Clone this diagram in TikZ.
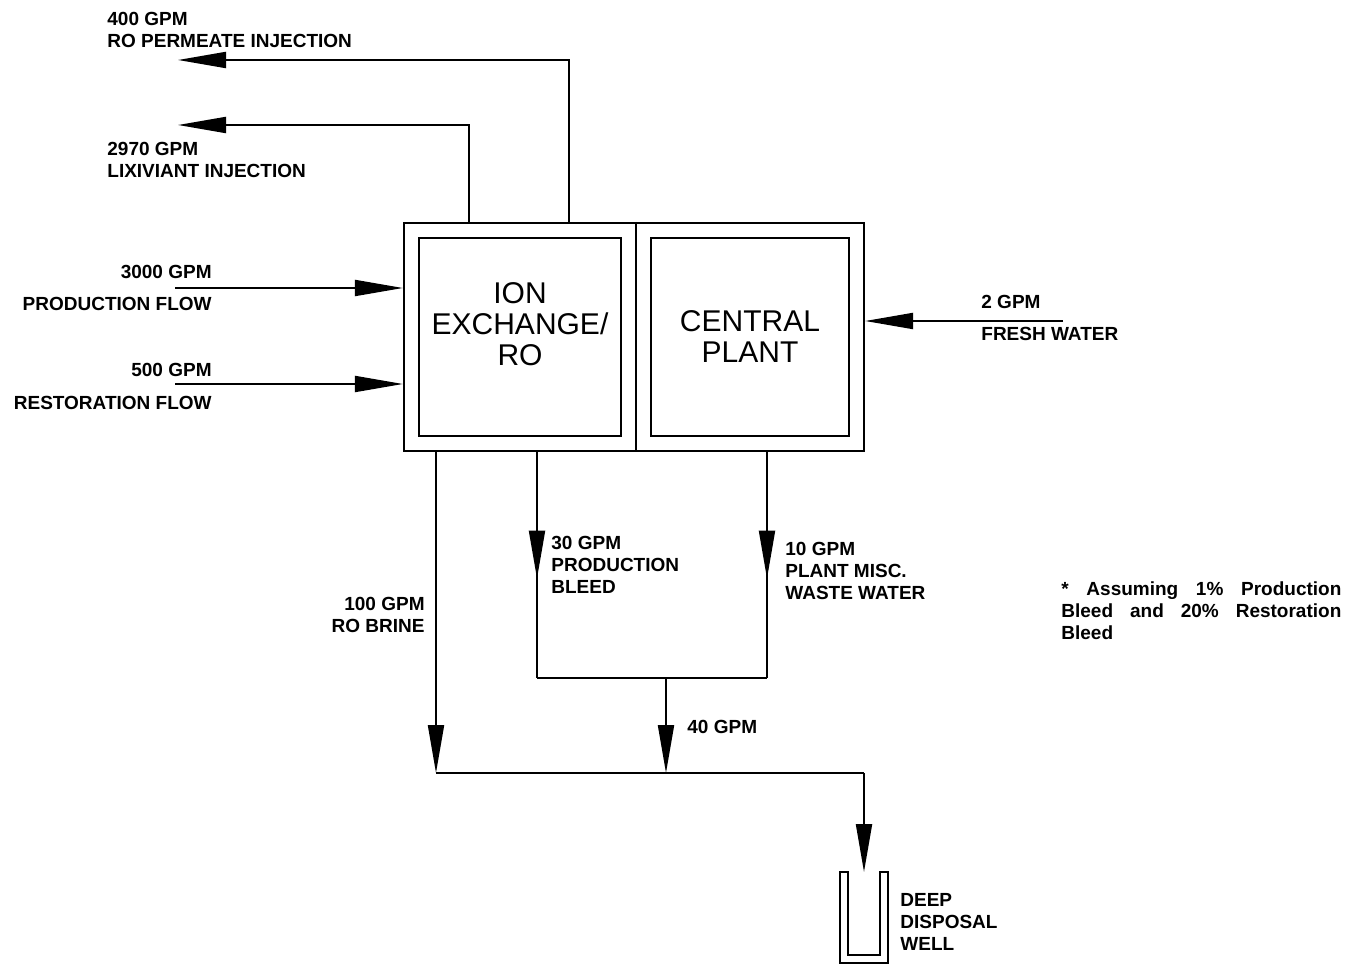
\documentclass[tikz,border=0pt]{standalone}
\usepackage{fontspec}
\setmainfont{Liberation Sans}
\usetikzlibrary{arrows.meta,decorations.markings}

\tikzset{
  pipe/.style={line width=1pt},
  flow/.style={pipe, -{Triangle[length=24pt,width=8pt]}},
  midflow/.style={pipe, postaction={decorate}, decoration={markings,
      mark=at position #1 with {\arrow{Triangle[length=24pt,width=8pt]}}}},
  tag/.style={inner sep=0pt, align=left, font=\bfseries\fontsize{9.5}{11}\selectfont},
  unit/.style={draw, line width=1.1pt, inner sep=0pt, align=center,
      font=\fontsize{15}{15.5}\selectfont},
}

\begin{document}
\begin{tikzpicture}[x=0.5pt, y=-0.5pt]
    \useasboundingbox (0,0) rectangle (1351,968);

    % plant buildings
    \node[unit, minimum width=230pt, minimum height=114pt] (frame) at (634,337) {};
    \node[unit, minimum width=101pt, minimum height=99pt] (ion) at (520,337) {};
    \node[unit, minimum width=99pt, minimum height=99pt] (plant) at (750,337) {CENTRAL\\PLANT};
    \node[unit, draw=none] (iontext) at ([yshift=6.5pt]ion.center) {ION\\EXCHANGE/\\RO};
    \coordinate (split) at (636,337);
    \draw[line width=1.1pt] (frame.north -| split) -- (frame.south -| split);

    % injection lines
    \coordinate (perm) at (178,60);
    \coordinate (permbend) at (569,60);
    \coordinate (lix) at (178,125);
    \coordinate (lixbend) at (469,125);
    \draw[flow] (frame.north -| permbend) -- (permbend) -- (perm);
    \draw[flow] (frame.north -| lixbend) -- (lixbend) -- (lix);

    % feed lines
    \coordinate (prod) at (175,288);
    \coordinate (rest) at (175,384);
    \coordinate (fresh) at (1063,321);
    \draw[flow] (prod) -- (prod -| frame.west);
    \draw[flow] (rest) -- (rest -| frame.west);
    \draw[flow] (fresh) -- (fresh -| frame.east);

    % waste lines
    \coordinate (brine) at (436,773);
    \coordinate (bleed) at (537,678);
    \coordinate (misc) at (767,678);
    \coordinate (merge) at (666,678);
    \coordinate (mix) at (666,773);
    \coordinate (drop) at (864,773);
    \coordinate (well) at (864,872);
    \draw[flow] (frame.south -| brine) -- (brine);
    \draw[midflow=0.56] (frame.south -| bleed) -- (bleed);
    \draw[midflow=0.56] (frame.south -| misc) -- (misc);
    \draw[pipe] (bleed) -- (misc);
    \draw[flow] (merge) -- (mix);
    \draw[pipe] (brine) -- (drop);
    \draw[flow] (drop) -- (well);

    % disposal well
    \draw[line width=1pt] (well) ++(-24,0) -- ++(0,91) -- ++(48,0) -- ++(0,-91)
        -- ++(-8,0) -- ++(0,83) -- ++(-32,0) -- ++(0,-83) -- cycle;

    % labels
    \node[tag, anchor=north west] (permlbl) at (107,12) {400 GPM\\RO PERMEATE INJECTION};
    \node[tag, anchor=north west] (lixlbl) at (107,142) {2970 GPM\\LIXIVIANT INJECTION};
    \node[tag, anchor=east] (prodrate) at (212,272) {3000 GPM};
    \node[tag, anchor=east] (prodlbl) at (212,304) {PRODUCTION FLOW};
    \node[tag, anchor=east] (restrate) at (212,370) {500 GPM};
    \node[tag, anchor=east] (restlbl) at (212,403) {RESTORATION FLOW};
    \node[tag, anchor=west] (freshrate) at (981,302) {2 GPM};
    \node[tag, anchor=west] (freshlbl) at (981,334) {FRESH WATER};
    \node[tag, anchor=north west] (bleedlbl) at (551,536) {30 GPM\\PRODUCTION\\BLEED};
    \node[tag, anchor=north west] (misclbl) at (785,542) {10 GPM\\PLANT MISC.\\WASTE WATER};
    \node[tag, anchor=north east, align=right] (brinelbl) at (425,597) {100 GPM\\RO BRINE};
    \node[tag, anchor=west] (mixlbl) at (687,727) {40 GPM};
    \node[tag, anchor=north west] (welllbl) at (900,893) {DEEP\\DISPOSAL\\WELL};
    \node[tag, anchor=north west, text width=140pt] (note) at (1061,581)
        {*\hfill Assuming\hfill 1\%\hfill Production\\ Bleed\hfill and\hfill 20\%\hfill Restoration\\ Bleed};
\end{tikzpicture}
\end{document}
